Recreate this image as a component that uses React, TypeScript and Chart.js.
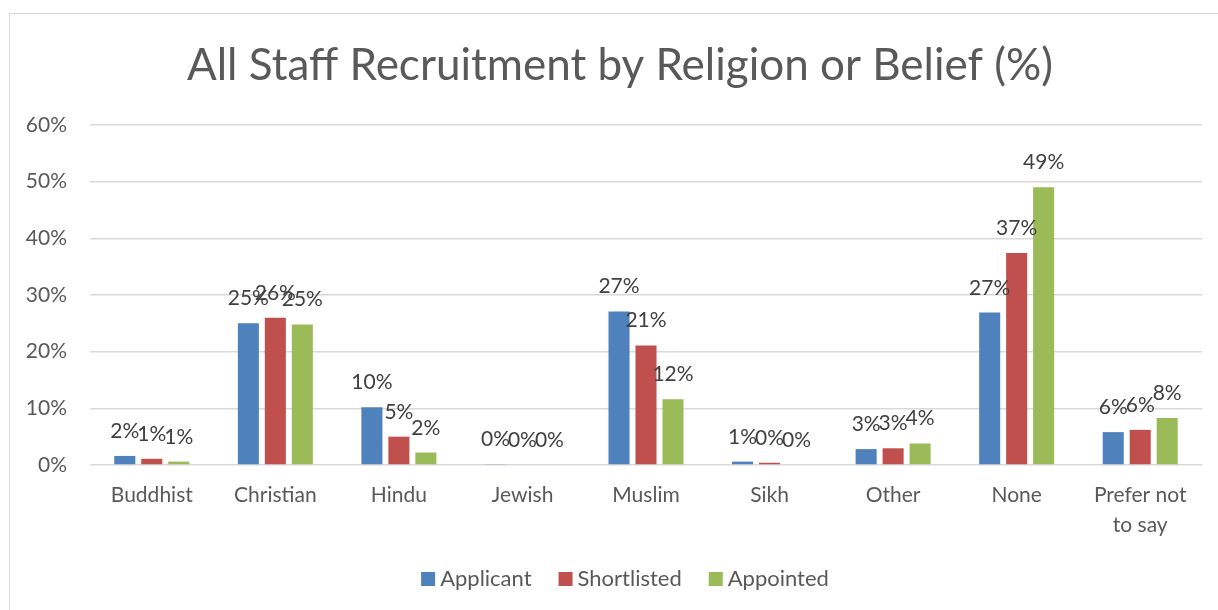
import React, { useEffect, useRef } from "react";
import { Chart, registerables } from "chart.js";

Chart.register(...registerables);

const title = "All Staff Recruitment by Religion or Belief (%)";
const categories: (string | string[])[] = [
  "Buddhist", "Christian", "Hindu", "Jewish", "Muslim", "Sikh", "Other", "None", ["Prefer not", "to say"],
];
const applicant = [1.6, 25.0, 10.2, 0.1, 27.1, 0.6, 2.8, 26.9, 5.8];
const shortlisted = [1.1, 26.0, 5.0, 0, 21.1, 0.4, 2.95, 37.4, 6.2];
const appointed = [0.6, 24.8, 2.2, 0, 11.6, 0, 3.8, 49.0, 8.3];
const seriesNames = ["Applicant", "Shortlisted", "Appointed"];
const seriesColors = ["#4F81BD", "#C0504D", "#9BBB59"];
const yTicks = [0, 10, 20, 30, 40, 50, 60];

const FONT = "Lato, 'Open Sans', sans-serif";
const AXIS_COLOR = "#595959";
const LABEL_COLOR = "#404040";
const TICK_SIZE = 21;
const LABEL_SIZE = 21;
const LEGEND_SIZE = 22;

const overlayPlugin = {
  id: "overlay",
  afterDatasetsDraw(chart: any) {
    const ctx = chart.ctx;
    ctx.save();
    ctx.font = `${LABEL_SIZE}px ${FONT}`;
    ctx.fillStyle = LABEL_COLOR;
    ctx.textAlign = "center";
    ctx.textBaseline = "alphabetic";
    chart.data.datasets.forEach((ds: any, di: number) => {
      const meta = chart.getDatasetMeta(di);
      meta.data.forEach((el: any, i: number) => {
        const v = ds.data[i];
        ctx.fillText(Math.round(v) + "%", el.x, el.y - 18);
      });
    });
    ctx.restore();
  },
  afterDraw(chart: any) {
    const ctx = chart.ctx;
    ctx.save();
    ctx.font = `400 44px ${FONT}`;
    ctx.fillStyle = AXIS_COLOR;
    ctx.textAlign = "center";
    ctx.textBaseline = "alphabetic";
    ctx.fillText(title, 620, 80);
    ctx.font = `${LEGEND_SIZE}px ${FONT}`;
    const box = 14;
    const gapBoxText = 5;
    const gapItems = 27;
    const widths = seriesNames.map((n) => ctx.measureText(n).width);
    const total =
      widths.reduce((a, b) => a + b, 0) + seriesNames.length * (box + gapBoxText) + gapItems * (seriesNames.length - 1);
    let x = 625 - total / 2;
    ctx.textAlign = "left";
    seriesNames.forEach((n, i) => {
      ctx.fillStyle = seriesColors[i];
      ctx.fillRect(x, 572, box, box);
      ctx.fillStyle = AXIS_COLOR;
      ctx.fillText(n, x + box + gapBoxText, 586);
      x += box + gapBoxText + widths[i] + gapItems;
    });
    ctx.restore();
  },
};

export default function App() {
  const ref = useRef<HTMLCanvasElement>(null);
  useEffect(() => {
    if (!ref.current) return;
    const chart = new Chart(ref.current, {
      type: "bar",
      data: {
        labels: categories,
        datasets: [applicant, shortlisted, appointed].map((d, i) => ({
          label: seriesNames[i],
          data: d,
          backgroundColor: seriesColors[i],
          borderWidth: 0,
          barPercentage: 0.78,
          categoryPercentage: 0.655,
        })),
      },
      options: {
        animation: false,
        responsive: false,
        maintainAspectRatio: false,
        layout: { padding: { top: 125, left: 0, right: 16, bottom: 0 } },
        plugins: {
          legend: { display: false },
          title: { display: false },
          tooltip: { enabled: false },
        },
        scales: {
          x: {
            grid: { display: false, drawTicks: false },
            border: { display: false },
            ticks: {
              color: AXIS_COLOR,
              font: { family: FONT, size: TICK_SIZE, lineHeight: 30 / TICK_SIZE },
              padding: 15,
              maxRotation: 0,
              autoSkip: false,
            },
            afterFit(scale: any) {
              scale.height = 145;
            },
          },
          y: {
            min: 0,
            max: 60,
            afterBuildTicks(scale: any) {
              scale.ticks = yTicks.map((v) => ({ value: v }));
            },
            grid: { color: "#d9d9d9", lineWidth: 1.5, drawTicks: false },
            border: { display: false },
            ticks: {
              color: AXIS_COLOR,
              font: { family: FONT, size: TICK_SIZE },
              padding: 23,
              callback: (v: any) => v + "%",
            },
            afterFit(scale: any) {
              scale.width = 90;
            },
          },
        },
      },
      plugins: [overlayPlugin],
    });
    return () => chart.destroy();
  }, []);

  return (
    <div style={{ position: "fixed", left: 0, top: 0, width: 1218, height: 610, background: "#fff" }}>
      <div
        style={{
          position: "absolute",
          left: 9,
          top: 13,
          width: 1300,
          height: 700,
          border: "1.5px solid #d9d9d9",
          boxSizing: "border-box",
        }}
      />
      <canvas ref={ref} width={1218} height={610} style={{ position: "absolute", left: 0, top: 0, width: 1218, height: 610 }} />
    </div>
  );
}
